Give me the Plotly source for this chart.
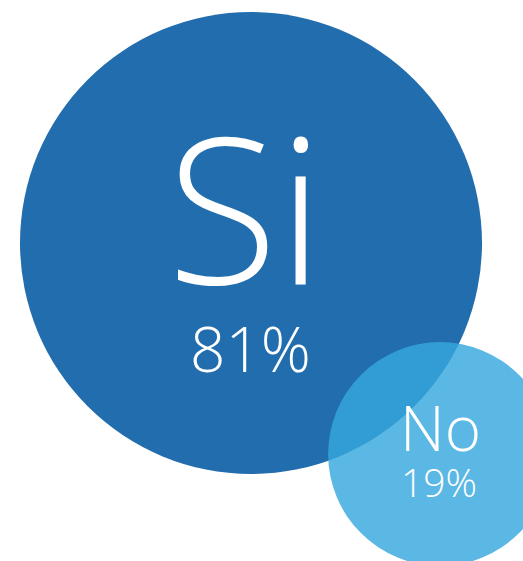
import math
import plotly.graph_objects as go

# Survey answers and their shares (percent)
answers = ["Si", "No"]
shares = [81, 19]

# Layout of the bubbles (pixel space, y grows downward)
W, H = 523, 561
centers_x = [251, 440]
centers_y = [243, 454]
max_radius = 231
fill_colors = ["rgb(34,109,174)", "rgba(54,168,222,0.815)"]

# Bubble area proportional to the share
diameters = [2 * max_radius * math.sqrt(s / max(shares)) for s in shares]

fig = go.Figure()
for i, (ans, s) in enumerate(zip(answers, shares)):
    fig.add_trace(go.Scatter(
        x=[centers_x[i]], y=[centers_y[i]],
        mode="markers",
        marker=dict(size=diameters[i], color=fill_colors[i], line=dict(width=0)),
        hoverinfo="skip", showlegend=False,
    ))

# Labels: answer name and percentage inside each bubble
label_font = "Open Sans"
name_pos = [(245, 205, 203), (440, 427, 62)]
pct_pos = [(250, 348, 62), (439, 481, 39)]
for i, (ans, s) in enumerate(zip(answers, shares)):
    nx, ny, nsz = name_pos[i]
    px, py, psz = pct_pos[i]
    fig.add_annotation(x=nx, y=ny, text=ans, showarrow=False,
                       xanchor="center", yanchor="middle",
                       font=dict(family=label_font, size=nsz, color="white", weight=300))
    fig.add_annotation(x=px, y=py, text=f"{s}%", showarrow=False,
                       xanchor="center", yanchor="middle",
                       font=dict(family=label_font, size=psz, color="white", weight=300))

fig.update_layout(
    width=W, height=H,
    margin=dict(l=0, r=0, t=0, b=0),
    paper_bgcolor="white", plot_bgcolor="white",
    xaxis=dict(range=[0, W], visible=False, fixedrange=True),
    yaxis=dict(range=[H, 0], visible=False, fixedrange=True),
)

fig.write_html("out.html", config={"displayModeBar": False})
